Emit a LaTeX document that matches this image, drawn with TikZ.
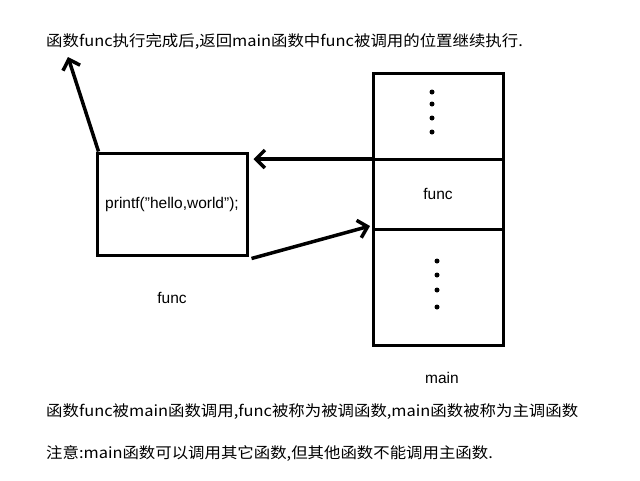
\documentclass[tikz,border=0pt]{standalone}
\usepackage{fontspec}
\setmainfont{Liberation Sans}
\newfontfamily\cjk[FakeStretch=1.08]{Noto Sans CJK SC}
\usepackage{tikz}
\usetikzlibrary{positioning,arrows.meta}

\begin{document}
\begin{tikzpicture}[x=1pt,y=-1pt,
callbox/.style={rectangle, draw=black, line width=3pt, minimum width=150pt, minimum height=102pt, font=\fontsize{15.5}{18}\selectfont},
stackcell/.style={rectangle, draw=black, line width=3pt, outer sep=0pt, minimum width=130pt, font=\fontsize{15.5}{18}\selectfont},
plainlabel/.style={font=\fontsize{15.5}{18}\selectfont},
note/.style={anchor=west, inner sep=0pt, font=\cjk\fontsize{15.2}{18}\selectfont},
bigarrow/.style={line width=3.5pt, -{Straight Barb[length=9pt,width=18pt,line width=3.5pt]}},
dot/.style={circle, fill=black, inner sep=0pt, minimum size=5pt},
]
\useasboundingbox (0,0) rectangle (640,480);
%Nodes
\node[note]      (back)   at (46,41)  {函数func执行完成后,返回main函数中func被调用的位置继续执行.};
\node[callbox]   (printf) at (172,204) {printf(\char34 hello,world\char34);};
\node[plainlabel] (fname) [below=32pt of printf] {func};

\node[stackcell, minimum height=86pt]  (upper)  at (438,116) {};
\node[stackcell, minimum height=70pt]  (middle) [below=0pt of upper.south, anchor=north] {func};
\node[stackcell, minimum height=116pt] (lower)  [below=0pt of middle.south, anchor=north] {};
\node[plainlabel] (mname) at (442,378) {main};

\foreach \y in {92,104,118,132} \node[dot] at (432,\y) {};
\foreach \y in {261,275,290,307} \node[dot] at (437,\y) {};

\node[note] (called) at (46,412) {函数func被main函数调用,func被称为被调函数,main函数被称为主调函数};
\node[note] (remark) at (46,453) {注意:main函数可以调用其它函数,但其他函数不能调用主函数.};

\coordinate (ret) at (68,57);

%Lines
\draw[bigarrow] ([xshift=3pt]printf.north west) -- (ret);
\draw[bigarrow] (middle.north west) -- ([xshift=5pt]printf.east |- middle.north west);
\draw[bigarrow] ([xshift=3pt,yshift=-2pt]printf.south east) -- ([xshift=-3pt,yshift=3pt]lower.north west);
\end{tikzpicture}
\end{document}
